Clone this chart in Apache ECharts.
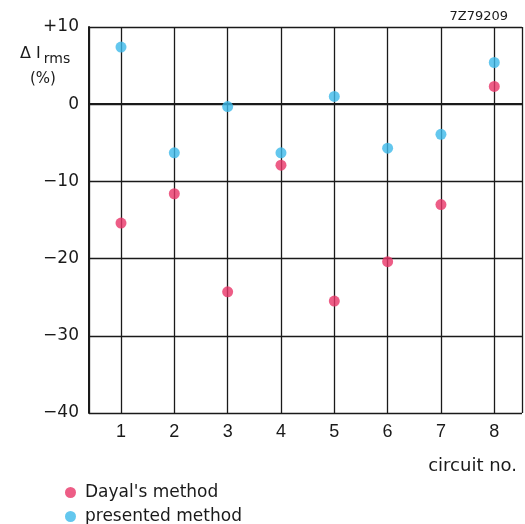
<!DOCTYPE html>
<html><head><meta charset="utf-8">
<script src="https://cdn.jsdelivr.net/npm/echarts@6/dist/echarts.min.js"></script>
<style>html,body{margin:0;padding:0;background:#fff}#c{width:525px;height:524px}</style>
</head><body><div id="c"></div>
<script>
const circuits = [1, 2, 3, 4, 5, 6, 7, 8];
const dayal = [-15.4, -11.6, -24.3, -7.9, -25.5, -20.4, -13.0, 2.3];
const presented = [7.4, -6.3, -0.3, -6.3, 1.0, -5.7, -3.9, 5.4];
const yTicks = [-40, -30, -20, -10, 0, 10];
const seriesNames = ["Dayal's method", 'presented method'];

const FONT = '"Liberation Sans", Arial, sans-serif';
const WIDE = '"DejaVu Sans", "Liberation Sans", sans-serif';
const ink = '#1a1a1a';
const legendText = {color: ink, fontSize: 17, fontFamily: WIDE, padding: [0, 0, 0, 4]};
const chart = echarts.init(document.getElementById('c'), null, {renderer: 'canvas'});
chart.setOption({
  backgroundColor: '#fff',
  animation: false,
  textStyle: {fontFamily: FONT},
  grid: {left: 89, right: 2, top: 27, bottom: 111, containLabel: false},
  xAxis: {
    type: 'value', min: 0.4, max: 8.52, minInterval: 1, maxInterval: 1,
    axisLine: {show: true, lineStyle: {color: ink, width: 2}},
    axisTick: {show: false},
    axisLabel: {color: ink, fontSize: 18, margin: 10, fontFamily: FONT,
      formatter: v => circuits.includes(v) ? String(v) : ''},
    splitLine: {show: true, lineStyle: {color: ink, width: 1.3}}
  },
  yAxis: {
    type: 'value', min: yTicks[0], max: yTicks[yTicks.length - 1], interval: 10,
    axisLine: {show: true, lineStyle: {color: ink, width: 2}},
    axisTick: {show: false},
    axisLabel: {color: ink, fontSize: 17, margin: 10, fontFamily: WIDE,
      formatter: v => v > 0 ? '+' + v : (v < 0 ? '\u2212' + Math.abs(v) : '0')},
    splitLine: {show: true, lineStyle: {color: ink, width: 1.3}}
  },
  legend: [
    {left: 60, top: 479, itemWidth: 11, itemHeight: 11, icon: 'circle', textStyle: legendText, data: [seriesNames[0]]},
    {left: 60, top: 503, itemWidth: 11, itemHeight: 11, icon: 'circle', textStyle: legendText, data: [seriesNames[1]]}
  ],
  title: [
    {text: '{a|\u0394 I}{b|rms}', left: 15, top: 37,
      textStyle: {fontWeight: 'normal', rich: {
        a: {fontSize: 16, color: ink, fontFamily: WIDE, fontWeight: 'normal'},
        b: {fontSize: 14, color: ink, fontFamily: WIDE, fontWeight: 'normal', padding: [10, 0, 0, 3]}}}},
    {text: '(%)', left: 25, top: 67, textStyle: {fontSize: 15, fontWeight: 'normal', color: ink, fontFamily: WIDE}},
    {text: '7Z79209', right: 12, top: 5, textStyle: {fontSize: 13, fontWeight: 'normal', color: ink, fontFamily: WIDE}},
    {text: 'circuit no.', right: 3, top: 452, textStyle: {fontSize: 18, fontWeight: 'normal', color: ink, fontFamily: WIDE}}
  ],
  series: [
    {name: seriesNames[0], type: 'scatter', symbolSize: 11, itemStyle: {color: '#e83468'},
      data: circuits.map((c, i) => [c, dayal[i]])},
    {name: seriesNames[1], type: 'scatter', symbolSize: 11, itemStyle: {color: '#3cb9ea'},
      data: circuits.map((c, i) => [c, presented[i]])}
  ]
});
</script></body></html>
